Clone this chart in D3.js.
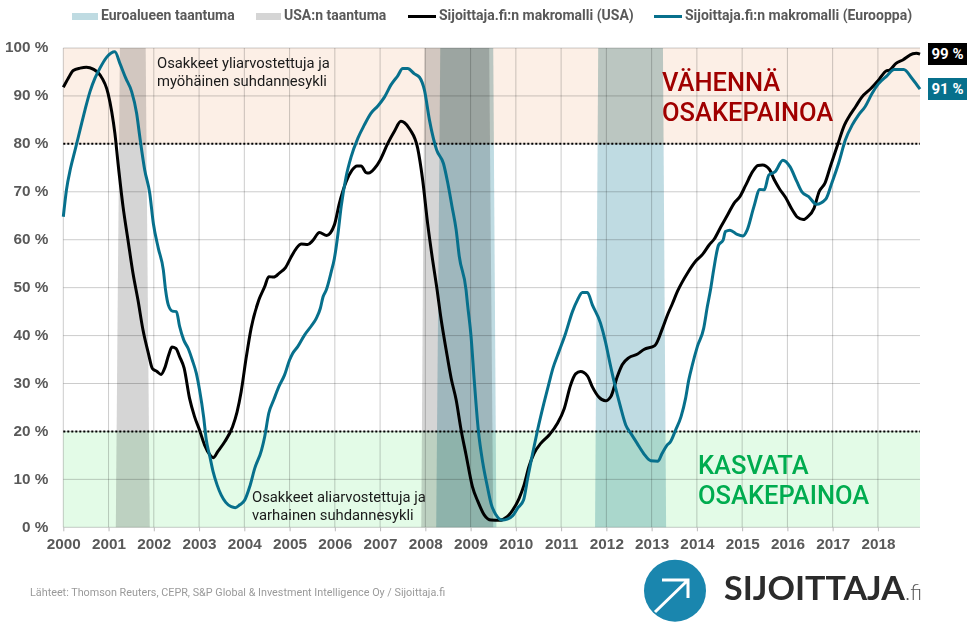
<!DOCTYPE html>
<html lang="fi">
<head>
<meta charset="utf-8">
<title>Sijoittaja.fi makromalli</title>
<script src="https://cdn.jsdelivr.net/npm/d3@7"></script>
<style>
	html, body { margin: 0; padding: 0; background: #fff; }
	svg { display: block; font-family: Roboto, sans-serif; }
	.axis path { display: none; }
	.axis text { font-size: 15.3px; font-weight: 700; fill: #595959; }
	.xAxis line { stroke: #bbb; }
	.grid line { stroke: #ccc; stroke-width: 1; mix-blend-mode: multiply; }
	.band { mix-blend-mode: multiply; }
	.legend text { font-size: 14px; font-weight: 700; fill: #595959; }
	.note { font-size: 14.8px; fill: #1a1a1a; }
	.advice { font-size: 25.5px; font-weight: 500; }
</style>
</head>
<body>
<div id="chart"></div>
<script>
//////////////////////////// data /////////////////////////////////////////

const tickYears = d3.range(2000, 2019);
const tickPercents = d3.range(0, 101, 10);

const usaYears = [2000, 2000.11, 2000.22, 2000.37, 2000.51, 2000.66, 2000.81, 2000.99, 2001.07, 2001.14, 2001.21, 2001.32, 2001.43, 2001.54, 2001.65, 2001.76, 2001.88, 2001.97, 2002.07, 2002.16, 2002.24, 2002.33, 2002.4, 2002.49, 2002.57, 2002.67, 2002.79, 2002.9, 2003.01, 2003.12, 2003.24, 2003.31, 2003.42, 2003.57, 2003.74, 2003.84, 2003.93, 2004.04, 2004.15, 2004.32, 2004.45, 2004.54, 2004.65, 2004.78, 2004.91, 2005.04, 2005.15, 2005.26, 2005.4, 2005.51, 2005.66, 2005.82, 2005.99, 2006.1, 2006.25, 2006.38, 2006.49, 2006.58, 2006.69, 2006.75, 2006.88, 2007, 2007.17, 2007.32, 2007.46, 2007.54, 2007.66, 2007.83, 2007.94, 2008.05, 2008.16, 2008.25, 2008.35, 2008.46, 2008.57, 2008.68, 2008.79, 2008.9, 2009.04, 2009.16, 2009.3, 2009.45, 2009.63, 2009.81, 2009.93, 2010.07, 2010.18, 2010.29, 2010.4, 2010.55, 2010.74, 2010.92, 2011.07, 2011.21, 2011.32, 2011.43, 2011.58, 2011.69, 2011.84, 2011.98, 2012.1, 2012.24, 2012.35, 2012.5, 2012.68, 2012.83, 2013.07, 2013.24, 2013.35, 2013.46, 2013.57, 2013.79, 2013.98, 2014.13, 2014.27, 2014.38, 2014.53, 2014.68, 2014.82, 2014.95, 2015.08, 2015.23, 2015.35, 2015.45, 2015.6, 2015.71, 2015.82, 2015.96, 2016.11, 2016.22, 2016.35, 2016.44, 2016.59, 2016.7, 2016.83, 2016.96, 2017.11, 2017.26, 2017.37, 2017.51, 2017.64, 2017.85, 2018.03, 2018.18, 2018.26, 2018.4, 2018.55, 2018.77, 2018.85, 2018.93];
const usaValues = [91.8, 93.7, 95.3, 95.8, 96, 95.6, 94.4, 90.5, 86.7, 82.2, 75.9, 66.9, 59.9, 53, 47.4, 41.2, 36.3, 33.1, 32.5, 31.9, 33.2, 36, 37.6, 37.3, 35.6, 33.2, 26.9, 23.1, 20.3, 17.2, 15.1, 14.5, 15.9, 17.9, 21, 24.1, 28.3, 35.3, 41.5, 47.4, 50.2, 52.3, 52.2, 53.1, 54.2, 56.5, 58.2, 59.1, 59, 59.8, 61.5, 60.9, 63.1, 67.6, 72.1, 74.5, 75.4, 75.4, 74, 73.9, 74.9, 76.6, 80.1, 82.7, 84.7, 84.4, 83, 79.1, 72.5, 63.4, 55.8, 50.2, 43.3, 37, 31.1, 26.6, 20.3, 15.1, 8.5, 5.4, 2.6, 1.5, 1.46, 2.2, 3.6, 6, 8.8, 12.7, 15.4, 17.5, 19.3, 21.7, 24.8, 29.7, 32, 32.5, 31.6, 29.3, 27.1, 26.4, 27.3, 31.4, 33.9, 35.4, 36.1, 37.1, 37.9, 41.5, 44.3, 46.7, 49.2, 53, 55.6, 57, 58.9, 60.1, 62.7, 65.2, 67.6, 69, 71.4, 74.2, 75.5, 75.6, 74.7, 72.5, 70.7, 68.8, 66.2, 64.7, 64.2, 64.7, 66.6, 70, 71.8, 75.6, 79.8, 83.9, 85.8, 87.8, 89.7, 91.6, 93.5, 95.2, 95.4, 96.8, 97.5, 98.8, 98.9, 98.7];

const euroYears = [2000, 2000.07, 2000.16, 2000.26, 2000.37, 2000.48, 2000.59, 2000.7, 2000.81, 2000.96, 2001.14, 2001.25, 2001.38, 2001.51, 2001.62, 2001.69, 2001.8, 2001.91, 2001.99, 2002.1, 2002.21, 2002.26, 2002.32, 2002.41, 2002.5, 2002.57, 2002.66, 2002.76, 2002.85, 2002.94, 2003.01, 2003.1, 2003.16, 2003.24, 2003.31, 2003.4, 2003.49, 2003.59, 2003.71, 2003.8, 2003.9, 2004.01, 2004.12, 2004.23, 2004.38, 2004.45, 2004.54, 2004.65, 2004.76, 2004.89, 2005, 2005.07, 2005.18, 2005.33, 2005.48, 2005.59, 2005.68, 2005.74, 2005.81, 2005.92, 2005.99, 2006.07, 2006.14, 2006.25, 2006.36, 2006.51, 2006.65, 2006.8, 2006.95, 2007.1, 2007.24, 2007.39, 2007.5, 2007.61, 2007.76, 2007.87, 2007.98, 2008.09, 2008.25, 2008.4, 2008.49, 2008.59, 2008.68, 2008.75, 2008.9, 2008.93, 2009.01, 2009.08, 2009.17, 2009.27, 2009.37, 2009.45, 2009.56, 2009.7, 2009.81, 2009.93, 2010.04, 2010.17, 2010.26, 2010.37, 2010.48, 2010.62, 2010.73, 2010.82, 2010.95, 2011.1, 2011.25, 2011.36, 2011.47, 2011.58, 2011.69, 2011.87, 2011.98, 2012.08, 2012.18, 2012.31, 2012.43, 2012.54, 2012.68, 2012.83, 2012.98, 2013.14, 2013.23, 2013.33, 2013.42, 2013.53, 2013.65, 2013.75, 2013.82, 2013.9, 2014.01, 2014.15, 2014.23, 2014.3, 2014.37, 2014.48, 2014.58, 2014.63, 2014.73, 2014.89, 2015.02, 2015.11, 2015.26, 2015.39, 2015.49, 2015.59, 2015.73, 2015.9, 2016.06, 2016.21, 2016.32, 2016.47, 2016.64, 2016.85, 2016.98, 2017.13, 2017.28, 2017.43, 2017.57, 2017.72, 2017.87, 2018.01, 2018.2, 2018.36, 2018.57, 2018.75, 2018.93];
const euroValues = [64.8, 70.4, 74.9, 78.7, 82.9, 87.1, 90.9, 93.7, 95.8, 98.1, 99.2, 96.8, 93.7, 90.9, 86.4, 81.5, 74.5, 69.7, 63.4, 58.2, 53.7, 49.5, 46.4, 45.1, 45, 41.9, 39.1, 37.3, 34.9, 32.1, 28.7, 23.1, 18.2, 14.7, 11.6, 8.8, 6.7, 5.2, 4.3, 4.1, 4.7, 5.7, 8.5, 12.3, 16.1, 18.9, 23.8, 26.6, 29.3, 31.8, 34.9, 36.3, 37.7, 40.1, 42, 43.6, 45.7, 48.1, 49.5, 53.3, 56.1, 61.3, 66.9, 73.2, 77.3, 81.2, 83.9, 86.4, 87.9, 89.8, 92.3, 94.2, 95.7, 95.7, 94.6, 93.9, 91.2, 85, 78.7, 75.9, 72.1, 66.9, 62.1, 56.5, 49.5, 46.7, 39.8, 30.7, 20.3, 13.4, 8.5, 5, 2.6, 1.5, 1.7, 2.4, 4, 5.7, 10.2, 15.4, 20.3, 25.9, 30, 33.2, 36.6, 40.5, 45, 47.4, 49, 49, 46.4, 42.6, 38.7, 34.2, 30, 25.2, 21.3, 19.6, 17.5, 15.3, 13.9, 13.8, 15.4, 17, 17.9, 20.3, 23.1, 26.9, 30.7, 33.9, 37.7, 41.5, 46, 49.5, 53.7, 58.9, 59.9, 61.7, 62, 61.1, 60.8, 62, 66.9, 70.5, 70.4, 73.5, 74.2, 76.6, 75.2, 72.1, 70, 69, 67.4, 68.5, 71.8, 75.9, 80.8, 83.9, 86, 87.8, 90.5, 92.5, 94.2, 95.5, 95.5, 93.7, 91.4];

// recession bands: [start at top, end at top, end at bottom, start at bottom]
const usaRecessions = [
	[2001.25, 2001.82, 2001.91, 2001.16],
	[2007.98, 2009.41, 2009.5, 2007.91]
];
const euroRecessions = [
	[2008.33, 2009.5, 2009.57, 2008.24],
	[2011.82, 2013.25, 2013.32, 2011.75]
];

const sellZone = [80, 100];
const buyZone = [0, 20];
const lastYear = 2018.93;

const legendLabels = [
	"Euroalueen taantuma",
	"USA:n taantuma",
	"Sijoittaja.fi:n makromalli (USA)",
	"Sijoittaja.fi:n makromalli (Eurooppa)"
];

//////////////////////////// colors ///////////////////////////////////////

const colorUsa = "#000000";
const colorEuro = "#07708c";
const colorUsaBand = "#d5d5d5";
const colorEuroBand = "#bfdbe2";

//////////////////////////// drawing //////////////////////////////////////

const dimensions = {
	width: 971,
	height: 622,
	margin: { top: 48, right: 51, bottom: 94.7, left: 63.3 }
};
dimensions.boundedWidth = dimensions.width - dimensions.margin.left - dimensions.margin.right;
dimensions.boundedHeight = dimensions.height - dimensions.margin.top - dimensions.margin.bottom;

const wrapper = d3.select("#chart").append("svg")
	.attr("width", dimensions.width)
	.attr("height", dimensions.height);

const bounds = wrapper.append("g")
	.attr("transform", `translate(${dimensions.margin.left},${dimensions.margin.top})`);

const xScale = d3.scaleLinear()
	.domain([2000, lastYear])
	.range([0, dimensions.boundedWidth]);

const yScale = d3.scaleLinear()
	.domain([0, 100])
	.range([dimensions.boundedHeight, 0]);

// zones
const zones = [
	{ range: sellZone, fill: "#fcefe6" },
	{ range: buyZone, fill: "#e3fbe7" }
];
bounds.selectAll(".zone")
	.data(zones)
	.enter()
	.append("rect")
	.attr("class", "zone")
	.attr("x", 0)
	.attr("width", dimensions.boundedWidth)
	.attr("y", (d) => yScale(d.range[1]))
	.attr("height", (d) => yScale(d.range[0]) - yScale(d.range[1]))
	.attr("fill", (d) => d.fill);

// recessions
const bandPoints = (d) => [
	[xScale(d[0]), yScale(100)],
	[xScale(d[1]), yScale(100)],
	[xScale(d[2]), yScale(0)],
	[xScale(d[3]), yScale(0)]
].join(" ");

const drawBands = (data, fill) => {
	return bounds.append("g")
		.selectAll("polygon")
		.data(data)
		.enter()
		.append("polygon")
		.attr("class", "band")
		.attr("points", bandPoints)
		.attr("fill", fill);
};
drawBands(usaRecessions, colorUsaBand);
drawBands(euroRecessions, colorEuroBand);

// euro bands look a bit greyer on top of the pink zone
wrapper.append("clipPath")
	.attr("id", "sellClip")
	.append("rect")
	.attr("width", dimensions.boundedWidth)
	.attr("y", yScale(sellZone[1]))
	.attr("height", yScale(sellZone[0]) - yScale(sellZone[1]));
drawBands(euroRecessions, "#fdf7f1").attr("clip-path", "url(#sellClip)");

// grid
const grid = bounds.append("g").attr("class", "grid");
grid.selectAll(".gridY")
	.data(tickPercents)
	.enter()
	.append("line")
	.attr("x1", 0)
	.attr("x2", dimensions.boundedWidth)
	.attr("y1", (d) => yScale(d))
	.attr("y2", (d) => yScale(d));
grid.selectAll(".gridX")
	.data(tickYears)
	.enter()
	.append("line")
	.attr("x1", (d) => xScale(d))
	.attr("x2", (d) => xScale(d))
	.attr("y1", 0)
	.attr("y2", dimensions.boundedHeight);

// axes
const xAxisGenerator = d3.axisBottom(xScale)
	.tickValues(tickYears)
	.tickFormat(d3.format("d"))
	.tickSize(4)
	.tickPadding(7);
bounds.append("g")
	.attr("class", "axis xAxis")
	.attr("transform", `translate(0,${dimensions.boundedHeight})`)
	.call(xAxisGenerator);

const yAxisGenerator = d3.axisLeft(yScale)
	.tickValues(tickPercents)
	.tickFormat((d) => d + " %")
	.tickSize(0)
	.tickPadding(15);
bounds.append("g")
	.attr("class", "axis yAxis")
	.attr("transform", "translate(0,-1)")
	.call(yAxisGenerator);

// threshold lines
bounds.selectAll(".threshold")
	.data([sellZone[0], buyZone[1]])
	.enter()
	.append("line")
	.attr("class", "threshold")
	.attr("x1", 0)
	.attr("x2", dimensions.boundedWidth)
	.attr("y1", (d) => yScale(d))
	.attr("y2", (d) => yScale(d))
	.attr("stroke", "#000")
	.attr("stroke-width", 2)
	.attr("stroke-dasharray", "2,2");

// model lines
const lineGenerator = d3.line()
	.x((d) => xScale(d[0]))
	.y((d) => yScale(d[1]))
	.curve(d3.curveMonotoneX);

const series = [
	{ years: usaYears, values: usaValues, color: colorUsa },
	{ years: euroYears, values: euroValues, color: colorEuro }
];
bounds.selectAll(".model")
	.data(series)
	.enter()
	.append("path")
	.attr("class", "model")
	.attr("fill", "none")
	.attr("stroke", (d) => d.color)
	.attr("stroke-width", 3)
	.attr("stroke-linejoin", "round")
	.attr("d", (d) => lineGenerator(d3.zip(d.years, d.values)));

// end labels
const endLabels = [
	{ text: "99 %", y: 43, fill: colorUsa },
	{ text: "91 %", y: 78, fill: colorEuro }
];
const endLabel = wrapper.selectAll(".endLabel")
	.data(endLabels)
	.enter()
	.append("g")
	.attr("class", "endLabel")
	.attr("transform", (d) => `translate(928,${d.y})`);
endLabel.append("rect")
	.attr("width", 39)
	.attr("height", 22)
	.attr("fill", (d) => d.fill);
endLabel.append("text")
	.attr("x", 19.5)
	.attr("y", 16)
	.attr("text-anchor", "middle")
	.attr("fill", "#fff")
	.style("font-size", "15px")
	.style("font-weight", 700)
	.text((d) => d.text);

// legend
const legend = wrapper.append("g").attr("class", "legend");
const legendItems = [
	{ x: 72, w: 26, text: legendLabels[0], type: "band", color: colorEuroBand },
	{ x: 256, w: 25, text: legendLabels[1], type: "band", color: colorUsaBand },
	{ x: 408, w: 28, text: legendLabels[2], type: "line", color: colorUsa },
	{ x: 654, w: 28, text: legendLabels[3], type: "line", color: colorEuro }
];
legendItems.forEach((d) => {
	legend.append("rect")
		.attr("x", d.x)
		.attr("width", d.w)
		.attr("y", d.type === "band" ? 13 : 15)
		.attr("height", d.type === "band" ? 7 : 3)
		.attr("fill", d.color);
	legend.append("text")
		.attr("x", d.x + d.w + 3)
		.attr("y", 20)
		.text(d.text);
});

// notes
const notes = [
	{ x: 157, y: 68, text: "Osakkeet yliarvostettuja ja" },
	{ x: 157, y: 86, text: "myöhäinen suhdannesykli" },
	{ x: 252, y: 502, text: "Osakkeet aliarvostettuja ja" },
	{ x: 252, y: 520, text: "varhainen suhdannesykli" }
];
wrapper.selectAll(".note")
	.data(notes)
	.enter()
	.append("text")
	.attr("class", "note")
	.attr("x", (d) => d.x)
	.attr("y", (d) => d.y)
	.text((d) => d.text);

const advice = [
	{ x: 662, y: 91, text: "VÄHENNÄ", fill: "#a00000" },
	{ x: 662, y: 120.5, text: "OSAKEPAINOA", fill: "#a00000" },
	{ x: 698, y: 474, text: "KASVATA", fill: "#00ac4f" },
	{ x: 698, y: 504, text: "OSAKEPAINOA", fill: "#00ac4f" }
];
wrapper.selectAll(".advice")
	.data(advice)
	.enter()
	.append("text")
	.attr("class", "advice")
	.attr("x", (d) => d.x)
	.attr("y", (d) => d.y)
	.attr("fill", (d) => d.fill)
	.text((d) => d.text);

// source
wrapper.append("text")
	.attr("x", 30)
	.attr("y", 596)
	.attr("fill", "#9a9a9a")
	.style("font-size", "10.8px")
	.text("Lähteet: Thomson Reuters, CEPR, S&P Global & Investment Intelligence Oy / Sijoittaja.fi");

// logo
const logo = wrapper.append("g").attr("class", "logo");
logo.append("circle")
	.attr("cx", 675)
	.attr("cy", 590.7)
	.attr("r", 31)
	.attr("fill", "#1a86ae");
logo.append("path")
	.attr("d", "M655,612 L687,581 M662,580 H688 V598")
	.attr("fill", "none")
	.attr("stroke", "#fff")
	.attr("stroke-width", 3);
logo.append("text")
	.attr("x", 724)
	.attr("y", 600)
	.attr("textLength", 181)
	.attr("lengthAdjust", "spacingAndGlyphs")
	.attr("fill", "#2b2b2b")
	.style("font-family", "Lato, sans-serif")
	.style("font-size", "33px")
	.style("font-weight", 700)
	.text("SIJOITTAJA");
logo.append("text")
	.attr("x", 905)
	.attr("y", 600)
	.attr("fill", "#555")
	.style("font-family", "Lato, sans-serif")
	.style("font-size", "22px")
	.style("font-weight", 300)
	.text(".fi");
</script>
</body>
</html>
